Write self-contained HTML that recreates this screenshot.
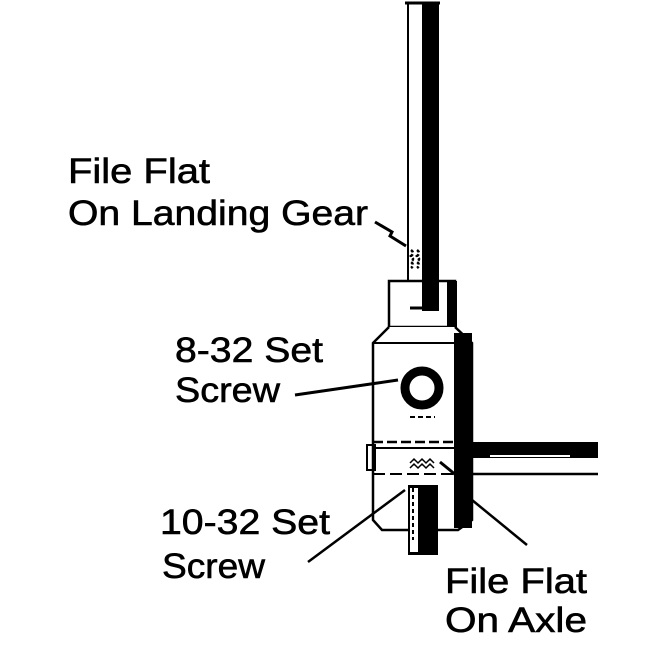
<!DOCTYPE html>
<html><head><style>html,body{margin:0;padding:0;background:#fff}svg{display:block}</style></head>
<body>
<svg width="650" height="650" viewBox="0 0 650 650" xmlns="http://www.w3.org/2000/svg">
<rect width="650" height="650" fill="#fff"/>
<g font-family="Liberation Sans, Arial, sans-serif" font-size="35" fill="#000" stroke="#000" stroke-width="0.6">
<text x="68" y="183" textLength="142" lengthAdjust="spacingAndGlyphs">File Flat</text>
<text x="68" y="225" textLength="300" lengthAdjust="spacingAndGlyphs">On Landing Gear</text>
<text x="175" y="362" textLength="148" lengthAdjust="spacingAndGlyphs">8-32 Set</text>
<text x="175" y="402" textLength="105" lengthAdjust="spacingAndGlyphs">Screw</text>
<text x="160" y="534" textLength="170" lengthAdjust="spacingAndGlyphs">10-32 Set</text>
<text x="162" y="578" textLength="103" lengthAdjust="spacingAndGlyphs">Screw</text>
<text x="445" y="593" textLength="142" lengthAdjust="spacingAndGlyphs">File Flat</text>
<text x="445" y="632" textLength="142" lengthAdjust="spacingAndGlyphs">On Axle</text>
</g>
<g stroke="#000" fill="none">
<line x1="408" y1="3" x2="408" y2="282" stroke-width="2"/>
<rect x="422" y="3" width="17" height="300" fill="#000" stroke="none"/>
<line x1="405" y1="3" x2="440" y2="3" stroke-width="3"/>
<path d="M411 250 q4 3 0 6 q4 3 0 6 q4 3 0 6 M417 250 q4 3 0 6 q4 3 0 6 q4 3 0 6" stroke-width="2.5" stroke-dasharray="3 2"/>
<rect x="389" y="281" width="66" height="46" stroke-width="2.5" fill="#fff"/>
<rect x="422" y="281" width="17" height="30" fill="#000" stroke="none"/>
<rect x="447" y="281" width="10" height="48" fill="#000" stroke="none"/>
<line x1="410" y1="308" x2="438" y2="308" stroke-width="3"/>
<path d="M389 327 L373 343 L373 520 L382 530 L458 530 L472 520 L472 343 L455 327" stroke-width="2.5" fill="#fff"/>
<line x1="373" y1="343" x2="455" y2="343" stroke-width="2"/>
<rect x="454" y="333" width="18" height="195" fill="#000" stroke="none"/>
<circle cx="422" cy="388" r="17" stroke-width="9"/>
<line x1="410" y1="417" x2="435" y2="417" stroke-width="2" stroke-dasharray="5 3"/>
<rect x="367" y="445" width="8" height="25" stroke-width="2"/>
<line x1="373" y1="442" x2="472" y2="442" stroke-width="2.5" stroke-dasharray="10 4"/>
<line x1="373" y1="448" x2="455" y2="448" stroke-width="2"/>
<line x1="373" y1="474" x2="472" y2="474" stroke-width="2" stroke-dasharray="12 5"/>
<rect x="472" y="442" width="126" height="16" fill="#000" stroke="none"/>
<line x1="490" y1="456" x2="570" y2="456" stroke="#fff" stroke-width="2"/>
<line x1="472" y1="474" x2="598" y2="474" stroke-width="2.5"/>
<path d="M410 463 l4 -4 l4 4 l4 -4 l4 4 l4 -4 l4 4 M410 468 l4 -4 l4 4 l4 -4 l4 4 l4 -4 l4 4" stroke-width="1.5"/>
<rect x="408" y="485" width="30" height="70" fill="#000" stroke="none"/>
<rect x="410" y="488" width="8" height="64" fill="#fff" stroke="none"/>
<line x1="413" y1="488" x2="413" y2="540" stroke-width="2" stroke-dasharray="4 3"/>
<path d="M375 222 L392 232 L390 236 L406 246" stroke-width="3"/>
<line x1="295" y1="395" x2="398" y2="380" stroke-width="3"/>
<line x1="308" y1="562" x2="405" y2="490" stroke-width="2.5"/>
<line x1="440" y1="462" x2="462" y2="480" stroke-width="3"/>
<line x1="472" y1="500" x2="527" y2="545" stroke-width="2.5"/>
</g>
</svg>
</body></html>
